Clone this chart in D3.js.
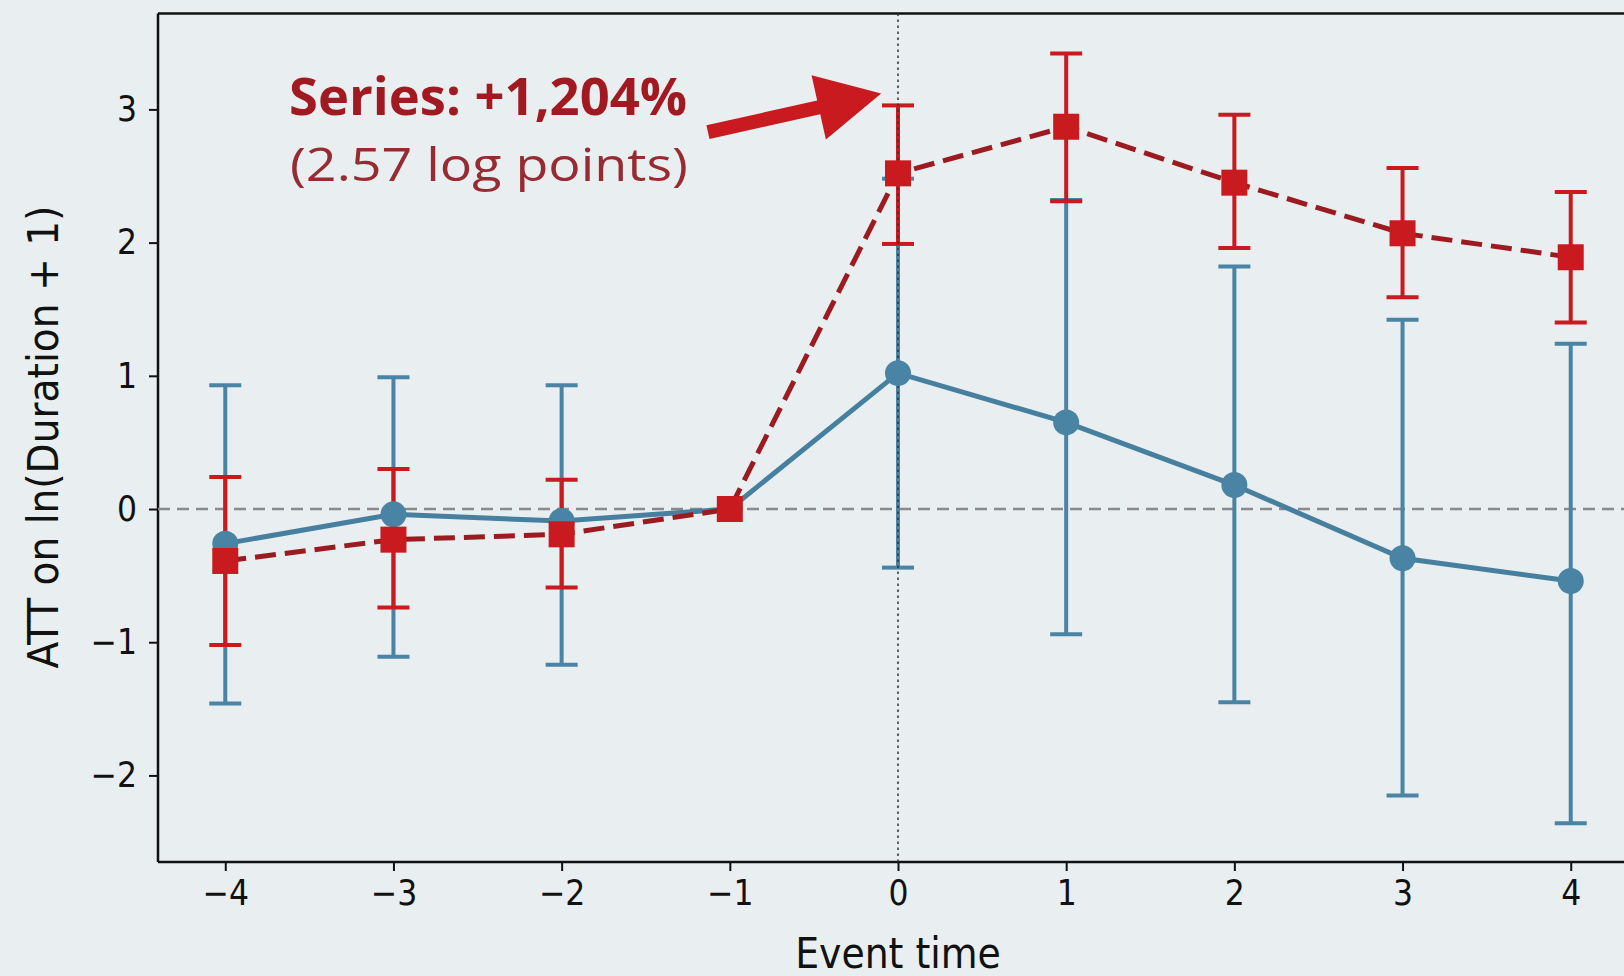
<!DOCTYPE html>
<html>
<head>
<meta charset="utf-8">
<script src="https://cdn.jsdelivr.net/npm/d3@7"></script>
<style>
  html, body { margin: 0; padding: 0; background: #e9eef0; }
  svg { display: block; }
  .tick-label { font-family: "DejaVu Sans Condensed", "DejaVu Sans", sans-serif; font-stretch: condensed; fill: #111; }
</style>
</head>
<body>
<div id="chart"></div>
<script>
// Event study: ATT by event time, two series with 95% CIs

const eventTimes = [-4, -3, -2, -1, 0, 1, 2, 3, 4];

// blue series (circles, solid line)
const blueEst = [-0.26, -0.04, -0.09, 0, 1.02, 0.65, 0.18, -0.37, -0.54];
const blueLo  = [-1.46, -1.11, -1.17, null, -0.44, -0.94, -1.45, -2.15, -2.36];
const blueHi  = [0.93, 0.99, 0.93, null, 2.48, 2.32, 1.82, 1.42, 1.24];

// red series (squares, dashed line)
const redEst = [-0.39, -0.23, -0.19, 0, 2.52, 2.87, 2.45, 2.07, 1.89];
const redLo  = [-1.02, -0.74, -0.59, null, 1.99, 2.31, 1.96, 1.59, 1.40];
const redHi  = [0.24, 0.30, 0.22, null, 3.03, 3.42, 2.96, 2.56, 2.38];

const xTicks = [-4, -3, -2, -1, 0, 1, 2, 3, 4];
const yTicks = [-2, -1, 0, 1, 2, 3];

const annoTitle = "Series: +1,204%";
const annoSub = "(2.57 log points)";

const W = 1624, H = 976;
const COLORS = {
    bg: "#e9eef0",
    blue: "#4a84a4",
    blueLine: "#47809e",
    red: "#c81a1f",
    redLine: "#9c1b20",
    redText: "#a11a21",
    redSub: "#962b31",
    zero: "#8a8a8a"
};

const svg = d3.select("#chart").append("svg")
    .attr("width", W)
    .attr("height", H);

svg.append("rect").attr("width", W).attr("height", H).attr("fill", COLORS.bg);

const x = d3.scaleLinear().domain([-4.4, 4.4]).range([158, 1638]);
const y = d3.scaleLinear().domain([-2.65, 3.72]).range([862, 13.5]);

const fmt = d => (d < 0 ? "\u2212" + Math.abs(d) : String(d));

// axes
const xAxis = svg.append("g")
    .attr("transform", `translate(0,${y.range()[0]})`)
    .call(d3.axisBottom(x).tickValues(xTicks).tickFormat(fmt).tickSize(9).tickPadding(8));
const yAxis = svg.append("g")
    .attr("transform", `translate(${x.range()[0]},0)`)
    .call(d3.axisLeft(y).tickValues(yTicks).tickFormat(fmt).tickSize(9).tickPadding(12));

[xAxis, yAxis].forEach(a => {
    a.select(".domain").remove();
    a.selectAll(".tick line").attr("stroke", "#111").attr("stroke-width", 2);
    a.selectAll(".tick text").attr("class", "tick-label").attr("font-size", 35);
});
xAxis.selectAll(".tick text").attr("dy", "0.75em");

// spines
svg.append("line")
    .attr("x1", x.range()[0]).attr("x2", x.range()[1])
    .attr("y1", y.range()[0]).attr("y2", y.range()[0])
    .attr("stroke", "#111").attr("stroke-width", 2.5);
svg.append("line")
    .attr("x1", x.range()[0]).attr("x2", x.range()[1])
    .attr("y1", y.range()[1]).attr("y2", y.range()[1])
    .attr("stroke", "#111").attr("stroke-width", 2.5);
svg.append("line")
    .attr("x1", x.range()[0]).attr("x2", x.range()[0])
    .attr("y1", y.range()[0]).attr("y2", y.range()[1])
    .attr("stroke", "#111").attr("stroke-width", 2.5);

// zero line
svg.append("line")
    .attr("x1", x.range()[0]).attr("x2", x.range()[1])
    .attr("y1", y(0)).attr("y2", y(0))
    .attr("stroke", COLORS.zero).attr("stroke-width", 2.6)
    .attr("stroke-dasharray", "12,7");

const plot = svg.append("g");

function drawSeries(est, lo, hi, opts) {
    const rows = eventTimes.map((t, i) => ({ t, est: est[i], lo: lo[i], hi: hi[i] }));
    const bars = rows.filter(d => d.lo !== null);

    const g = plot.append("g");
    g.selectAll("line.bar").data(bars).join("line")
        .attr("class", "bar")
        .attr("x1", d => x(d.t)).attr("x2", d => x(d.t))
        .attr("y1", d => y(d.lo)).attr("y2", d => y(d.hi))
        .attr("stroke", opts.barColor).attr("stroke-width", 4);
    ["lo", "hi"].forEach(k => {
        g.selectAll("line.cap-" + k).data(bars).join("line")
            .attr("class", "cap-" + k)
            .attr("x1", d => x(d.t) - 16).attr("x2", d => x(d.t) + 16)
            .attr("y1", d => y(d[k])).attr("y2", d => y(d[k]))
            .attr("stroke", opts.barColor).attr("stroke-width", 4);
    });

    const line = d3.line().x(d => x(d.t)).y(d => y(d.est));
    g.append("path").datum(rows)
        .attr("d", line)
        .attr("fill", "none")
        .attr("stroke", opts.lineColor)
        .attr("stroke-width", opts.lineWidth)
        .attr("stroke-dasharray", opts.dash || null);

    return { g, rows };
}

const blue = drawSeries(blueEst, blueLo, blueHi, {
    barColor: COLORS.blue, lineColor: COLORS.blueLine, lineWidth: 5
});
const red = drawSeries(redEst, redLo, redHi, {
    barColor: COLORS.red, lineColor: COLORS.redLine, lineWidth: 5, dash: "21,9"
});

// dotted event line at t = 0
svg.append("line")
    .attr("x1", x(0)).attr("x2", x(0))
    .attr("y1", y.range()[0]).attr("y2", y.range()[1])
    .attr("stroke", "#333").attr("stroke-width", 1.5)
    .attr("stroke-dasharray", "2.5,3.5");

// markers
svg.append("g").selectAll("circle").data(blue.rows).join("circle")
    .attr("cx", d => x(d.t)).attr("cy", d => y(d.est))
    .attr("r", 13)
    .attr("fill", COLORS.blue);
svg.append("g").selectAll("rect").data(red.rows).join("rect")
    .attr("x", d => x(d.t) - 13).attr("y", d => y(d.est) - 13)
    .attr("width", 26).attr("height", 26)
    .attr("fill", COLORS.red);

// axis titles
svg.append("text")
    .attr("class", "tick-label")
    .attr("x", (x.range()[0] + x.range()[1]) / 2).attr("y", 968)
    .attr("text-anchor", "middle")
    .attr("font-size", 42)
    .text("Event time");
svg.append("text")
    .attr("class", "tick-label")
    .attr("transform", "translate(58,437) rotate(-90)")
    .attr("text-anchor", "middle")
    .attr("font-size", 43.5)
    .text("ATT on ln(Duration + 1)");

// annotation
svg.append("text")
    .attr("x", 289).attr("y", y(2.955))
    .attr("font-family", "'Open Sans', Lato, sans-serif")
    .attr("font-weight", 700)
    .attr("font-size", 52)
    .attr("textLength", 398)
    .attr("lengthAdjust", "spacingAndGlyphs")
    .attr("fill", COLORS.redText)
    .text(annoTitle);
svg.append("text")
    .attr("x", 290).attr("y", y(2.465))
    .attr("font-family", "'Open Sans', Lato, sans-serif")
    .attr("font-size", 46)
    .attr("textLength", 398)
    .attr("lengthAdjust", "spacingAndGlyphs")
    .attr("fill", COLORS.redSub)
    .text(annoSub);

// arrow from text to the t=0 estimate
const tail = [x(-1.13), y(2.83)], tip = [x(-0.10), y(3.12)];
const dx = tip[0] - tail[0], dy = tip[1] - tail[1];
const len = Math.hypot(dx, dy);
const ux = dx / len, uy = dy / len, nx = -uy, ny = ux;
const shaftW = 14, headW = 66, headL = 64;
const bx = tip[0] - ux * headL, by = tip[1] - uy * headL;
const pts = [
    [tail[0] + nx * shaftW / 2, tail[1] + ny * shaftW / 2],
    [bx + nx * shaftW / 2, by + ny * shaftW / 2],
    [bx + nx * headW / 2, by + ny * headW / 2],
    tip,
    [bx - nx * headW / 2, by - ny * headW / 2],
    [bx - nx * shaftW / 2, by - ny * shaftW / 2],
    [tail[0] - nx * shaftW / 2, tail[1] - ny * shaftW / 2]
];
svg.append("polygon")
    .attr("points", pts.map(p => p.join(",")).join(" "))
    .attr("fill", COLORS.red);
</script>
</body>
</html>
